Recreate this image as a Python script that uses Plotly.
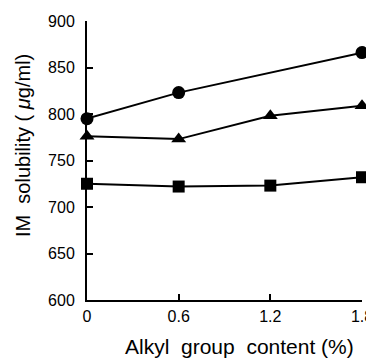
import plotly.graph_objects as go

x_vals = [0, 0.6, 1.2, 1.8]
circle_x = [0, 0.6, 1.8]
circle_y = [795, 823, 866]
triangle_y = [776, 773, 798, 809]
square_y = [725, 722, 723, 732]
x_ticks = [0, 0.6, 1.2, 1.8]
x_tick_text = ["0", "0.6", "1.2", "1.8"]
y_ticks = [600, 650, 700, 750, 800, 850, 900]
x_title = "Alkyl  group  content (%)"
y_title = "IM  solubility ( <i>μ</i>g/ml)"

font = dict(family="Liberation Sans, Arial, sans-serif", size=16, color="black")

fig = go.Figure()
fig.add_trace(go.Scatter(x=circle_x, y=circle_y, mode="lines+markers",
                         line=dict(color="black", width=2),
                         marker=dict(symbol="circle", size=13, color="black"),
                         cliponaxis=False, showlegend=False))
fig.add_trace(go.Scatter(x=x_vals, y=triangle_y, mode="lines+markers",
                         line=dict(color="black", width=2),
                         marker=dict(symbol="triangle-up", size=13, color="black"),
                         cliponaxis=False, showlegend=False))
fig.add_trace(go.Scatter(x=x_vals, y=square_y, mode="lines+markers",
                         line=dict(color="black", width=2),
                         marker=dict(symbol="square", size=12, color="black"),
                         cliponaxis=False, showlegend=False))

# page body has an 8px margin, so the figure is offset by (8, 8)
fig.update_layout(
    width=366, height=350,
    margin=dict(l=79, r=12, t=13, b=58, autoexpand=False),
    paper_bgcolor="white", plot_bgcolor="white",
    font=font,
    xaxis=dict(range=[0, 1.8], tickvals=x_ticks, ticktext=x_tick_text,
               showline=True, linecolor="black", linewidth=2,
               ticks="inside", ticklen=6, tickwidth=1.5, tickcolor="black",
               showgrid=False, zeroline=False, ticklabelstandoff=1, automargin=False,
               ticklabeloverflow="allow"),
    yaxis=dict(range=[600, 900], tickvals=y_ticks,
               showline=True, linecolor="black", linewidth=2,
               ticks="inside", ticklen=6, tickwidth=1.5, tickcolor="black",
               showgrid=False, zeroline=False, ticklabelstandoff=7, automargin=False),
    annotations=[
        dict(text=x_title, xref="paper", yref="paper", x=0.553, y=0,
             xanchor="center", yanchor="middle", yshift=-46, showarrow=False,
             font=dict(size=21)),
        dict(text=y_title, xref="paper", yref="paper", x=0, y=0.552,
             xanchor="center", yanchor="middle", xshift=-64, textangle=-90,
             showarrow=False, font=dict(size=20)),
    ],
)

fig.write_html("out.html")
